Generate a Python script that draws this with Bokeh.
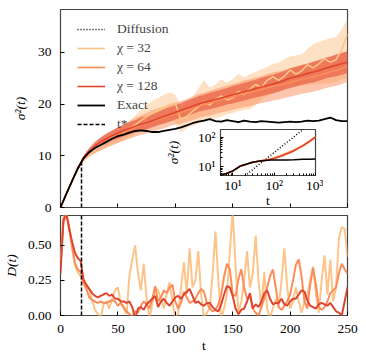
import numpy as np
from bokeh.plotting import figure
from bokeh.models import (Range1d, Span, Legend, LegendItem, SingleIntervalTicker,
                          FixedTicker, PrintfTickFormatter, CustomLabelingPolicy)
from bokeh.layouts import column
from bokeh.embed import file_html
from bokeh.resources import INLINE

# ---------------- data ----------------
t_top = np.arange(0, 255, 5)

exact = [0.0, 2.6, 5.1, 7.5, 9.5, 10.7, 11.5, 12.1, 12.7, 13.3, 13.8, 14.1, 14.5, 14.8, 14.9,
         14.8, 14.6, 14.6, 14.8, 15.0, 15.2, 15.5, 15.9, 16.3, 16.6, 16.8, 17.1, 16.7, 16.6,
         16.9, 16.7, 16.5, 16.8, 16.6, 16.5, 16.7, 16.6, 16.5, 16.4, 16.5, 16.6, 16.5, 16.6,
         16.8, 16.7, 16.8, 17.1, 17.4, 16.9, 16.7, 16.7]

chi128_mean = [0.0, 2.6, 5.1, 7.6, 9.6, 10.9, 11.9, 12.7, 13.3, 13.9, 14.4, 14.9, 15.3, 15.7,
               16.1, 16.4, 16.8, 17.2, 17.6, 18.0, 18.4, 18.8, 19.2, 19.6, 20.0, 20.3, 20.6,
               20.9, 21.2, 21.5, 21.8, 22.1, 22.4, 22.7, 23.0, 23.3, 23.6, 23.9, 24.2, 24.6,
               25.0, 25.3, 25.6, 25.9, 26.2, 26.5, 26.9, 27.2, 27.5, 27.8, 28.1]
chi128_std = [0.0, 0.1, 0.1, 0.2, 0.4, 0.6, 0.8, 0.9, 1.0, 1.0, 1.1, 1.1, 1.2, 1.2, 1.3, 1.3,
              1.3, 1.3, 1.4, 1.4, 1.4, 1.4, 1.5, 1.5, 1.5, 1.5, 1.6, 1.6, 1.6, 1.6, 1.7, 1.7,
              1.7, 1.7, 1.7, 1.8, 1.8, 1.8, 1.8, 1.8, 1.9, 1.9, 1.9, 1.9, 2.0, 2.0, 2.0, 2.0,
              2.1, 2.1, 2.1]

chi64_mean = [0.0, 2.6, 5.0, 7.5, 9.4, 10.6, 11.5, 12.3, 12.9, 13.5, 14.0, 14.5, 15.0, 15.5,
              15.9, 16.3, 16.7, 17.1, 17.4, 17.8, 18.1, 18.4, 18.8, 19.2, 19.6, 19.9, 20.2,
              20.5, 20.8, 21.1, 21.4, 21.7, 22.0, 22.2, 22.5, 22.8, 23.1, 23.4, 23.6, 23.9,
              24.2, 24.5, 24.8, 25.0, 25.3, 25.6, 25.9, 26.2, 26.5, 26.9, 27.3]
chi64_std = [0.0, 0.1, 0.2, 0.3, 0.5, 0.8, 1.0, 1.2, 1.3, 1.4, 1.5, 1.6, 1.7, 1.8, 1.9, 2.0,
             2.1, 2.1, 2.1, 2.1, 2.1, 2.2, 2.2, 2.3, 2.3, 2.3, 2.4, 2.4, 2.4, 2.5, 2.5, 2.5,
             2.6, 2.6, 2.6, 2.6, 2.7, 2.7, 2.7, 2.7, 2.8, 2.8, 2.8, 2.8, 2.9, 2.9, 2.9, 2.9,
             3.0, 3.0, 3.0]

chi32_line = [0.0, 2.6, 5.0, 7.4, 9.3, 10.4, 11.2, 11.9, 12.6, 13.2, 13.8, 14.5, 15.2, 16.0,
              16.8, 17.6, 18.2, 18.7, 19.3, 19.9, 20.2, 16.9, 17.6, 18.6, 19.4, 20.3, 19.8,
              20.9, 21.6, 20.8, 21.2, 22.5, 21.8, 22.9, 23.8, 23.2, 24.6, 25.3, 24.6, 25.4,
              26.6, 25.8, 26.4, 27.6, 27.0, 27.8, 28.8, 28.1, 28.6, 30.5, 33.5]
chi32_hi = [0.0, 2.7, 5.2, 7.7, 9.7, 11.0, 12.1, 13.0, 13.8, 14.5, 15.2, 15.9, 16.8, 17.8,
            18.8, 19.8, 20.6, 21.2, 21.8, 22.3, 21.8, 19.6, 20.2, 21.2, 23.0, 24.6, 23.2,
            23.8, 24.8, 24.2, 24.8, 25.8, 25.2, 25.8, 26.2, 26.8, 27.2, 27.8, 28.0, 28.7,
            29.2, 29.4, 29.6, 30.6, 31.6, 32.0, 32.4, 32.8, 33.0, 34.5, 36.5]
chi32_lo = [0.0, 2.5, 4.9, 7.2, 9.0, 9.9, 10.5, 11.0, 11.5, 12.0, 12.5, 13.0, 13.6, 14.2,
            14.8, 15.3, 15.6, 16.0, 16.4, 16.8, 16.6, 14.5, 15.4, 15.8, 16.2, 16.6, 17.0,
            17.2, 17.6, 18.0, 18.3, 18.6, 18.9, 19.0, 19.8, 20.8, 21.6, 22.0, 22.5, 22.9,
            23.2, 23.4, 23.6, 23.7, 23.8, 23.9, 24.0, 24.1, 24.3, 24.8, 25.2]

t_star = 18.3

t_D = np.arange(0, 252.5, 2.5)
D_chi128 = [0.30, 0.68, 0.73, 0.62, 0.53, 0.45, 0.41, 0.39, 0.26, 0.22, 0.19, 0.16, 0.14, 0.13,
            0.14, 0.15, 0.16, 0.14, 0.15, 0.12, 0.12, 0.10, 0.10, 0.09, 0.10, 0.06, -0.02, 0.05,
            0.06, 0.04, 0.08, 0.10, 0.12, 0.14, 0.06, 0.10, 0.12, 0.09, 0.07, 0.10, 0.13, 0.14,
            0.12, 0.15, 0.17, 0.19, 0.14, 0.09, 0.10, 0.08, 0.07, 0.09, 0.09, 0.06, 0.04, 0.03,
            0.08, 0.15, 0.21, 0.20, 0.14, 0.05, 0.01, 0.04, 0.05, 0.10, 0.16, 0.05, 0.08, 0.06,
            0.10, 0.16, 0.18, 0.12, 0.08, 0.09, 0.09, 0.12, 0.08, 0.07, 0.10, 0.12, 0.12, 0.15,
            0.18, 0.17, 0.11, 0.07, 0.06, 0.05, 0.08, 0.09, 0.08, 0.07, 0.09, 0.06, 0.03, 0.02,
            0.00, 0.10, 0.20]
D_chi64 = [0.35, 0.66, 0.72, 0.64, 0.50, 0.38, 0.33, 0.31, 0.24, 0.19, 0.13, 0.11, 0.10, 0.09,
           0.10, 0.09, 0.09, 0.10, 0.11, 0.10, 0.07, 0.09, 0.06, 0.03, 0.01, -0.01, 0.03, 0.02,
           0.07, 0.10, 0.08, 0.05, 0.12, 0.21, 0.10, 0.13, 0.18, 0.16, 0.20, 0.22, 0.10, 0.05,
           0.09, 0.17, 0.13, 0.09, 0.10, 0.12, 0.16, 0.19, 0.17, 0.09, 0.05, 0.03, 0.04, 0.08,
           0.15, 0.28, 0.37, 0.33, 0.15, 0.14, 0.26, 0.33, 0.20, 0.12, 0.14, 0.05, 0.02, 0.00,
           0.06, 0.12, 0.20, 0.28, 0.33, 0.20, 0.06, 0.04, 0.07, 0.10, 0.15, 0.25, 0.36, 0.40,
           0.28, 0.10, 0.05, 0.22, 0.34, 0.22, 0.06, 0.04, 0.06, 0.10, 0.16, 0.18, 0.20, 0.30,
           0.37, 0.33, 0.30]
D_chi32 = [0.40, 0.70, 0.74, 0.62, 0.48, 0.36, 0.31, 0.28, 0.22, 0.20, 0.19, 0.11, 0.04, 0.01,
           -0.02, 0.08, 0.10, 0.05, 0.12, 0.18, 0.20, 0.09, 0.05, 0.01, 0.28, 0.40, 0.50, 0.30,
           0.18, 0.37, 0.12, -0.02, 0.08, 0.20, 0.18, 0.12, 0.05, 0.15, 0.24, 0.10, -0.02, 0.02,
           0.20, 0.38, 0.15, 0.48, 0.20, 0.25, 0.46, 0.15, -0.02, 0.02, 0.05, 0.30, 0.60, 0.25,
           -0.02, 0.05, 0.15, 0.45, 0.75, 0.35, 0.02, 0.10, 0.25, 0.46, 0.20, 0.30, 0.57, 0.25,
           0.05, 0.31, 0.05, -0.02, 0.05, 0.12, 0.06, 0.25, 0.48, 0.20, 0.05, 0.10, 0.20, 0.10,
           0.02, 0.10, 0.15, 0.25, 0.35, 0.15, 0.02, 0.25, 0.43, 0.15, 0.40, 0.10, 0.20, 0.55,
           0.63, 0.62, 0.42]

inset_t = [5, 7, 10, 15, 20, 30, 45, 60, 80, 100, 140, 200, 300, 500, 700, 1000]
inset_exact = [5.0, 5.9, 7.2, 10.5, 12.0, 14.2, 15.6, 16.4, 17.0, 17.1, 17.1, 17.2, 17.5,
               18.0, 18.2, 18.5]
inset_chi128 = [5.0, 5.9, 7.2, 10.5, 12.0, 14.2, 15.6, 16.6, 17.6, 19.2, 22.5, 27.5, 35.0,
                52.0, 72.0, 105.0]
inset_chi64 = [5.0, 5.9, 7.2, 10.5, 12.0, 14.2, 15.7, 16.8, 18.0, 19.8, 23.2, 28.5, 36.5,
               54.0, 74.0, 106.0]
inset_chi32 = [5.0, 5.9, 7.2, 10.5, 12.0, 14.3, 16.0, 17.3, 18.8, 20.8, 24.5, 30.0, 38.5,
               56.0, 76.0, 108.0]
diff_t = [10, 1000]
diff_sigma2 = [2.3, 414.0]

inset_x_major = [10, 100, 1000]
inset_x_minor = [5, 6, 7, 8, 9, 20, 30, 40, 50, 60, 70, 80, 90,
                 200, 300, 400, 500, 600, 700, 800, 900]
inset_y_major = [10, 100]
inset_y_minor = [5, 6, 7, 8, 9, 20, 30, 40, 50, 60, 70, 80, 90]

labels = ["χ = 32", "χ = 64", "χ = 128"]
colors = ["#fdc48a", "#fc8d59", "#e0452f"]

FONT = "Liberation Serif"
FS = "13.5px"


def style(p, tick_in=4):
    p.outline_line_color = "#444444"
    p.outline_line_width = 1.2
    p.grid.visible = False
    p.background_fill_color = "white"
    for ax in p.axis:
        ax.axis_line_color = None
        ax.major_tick_in = tick_in
        ax.major_tick_out = 0
        ax.major_tick_line_color = "black"
        ax.minor_tick_line_color = None
        ax.major_label_text_font = FONT
        ax.major_label_text_font_size = FS
        ax.major_label_text_color = "black"
        ax.axis_label_text_font = FONT
        ax.axis_label_text_font_size = FS
        ax.axis_label_text_color = "black"
        ax.axis_label_text_font_style = "italic"
        ax.major_label_standoff = 5


# ---------------- top panel ----------------
p_top = figure(frame_width=287, frame_height=198, x_range=Range1d(0, 250),
               y_range=Range1d(0, 38.3), output_backend="svg", toolbar_location=None,
               min_border_left=51, min_border_right=12, min_border_top=9, min_border_bottom=6)
style(p_top)
p_top.xaxis.ticker = SingleIntervalTicker(interval=50)
p_top.xaxis.major_label_text_font_size = "1px"
p_top.xaxis.major_label_standoff = 0
p_top.xaxis.major_label_policy = CustomLabelingPolicy(code="return []")
p_top.yaxis.ticker = SingleIntervalTicker(interval=10)
p_top.yaxis.axis_label = "σ²(t)"
p_top.yaxis.axis_label_standoff = 7

lo64 = np.array(chi64_mean) - np.array(chi64_std)
hi64 = np.array(chi64_mean) + np.array(chi64_std)
lo128 = np.array(chi128_mean) - np.array(chi128_std)
hi128 = np.array(chi128_mean) + np.array(chi128_std)

p_top.varea(x=t_top, y1=chi32_lo, y2=chi32_hi, fill_color=colors[0], fill_alpha=0.5)
p_top.varea(x=t_top, y1=lo64, y2=hi64, fill_color=colors[1], fill_alpha=0.5)
p_top.varea(x=t_top, y1=lo128, y2=hi128, fill_color=colors[2], fill_alpha=0.55)

r32 = p_top.line(t_top, chi32_line, line_color=colors[0], line_width=1.6)
r64 = p_top.line(t_top, chi64_mean, line_color=colors[1], line_width=1.6)
r128 = p_top.line(t_top, chi128_mean, line_color=colors[2], line_width=1.6)
rex = p_top.line(t_top, exact, line_color="black", line_width=1.8)

sigma_star = float(np.interp(t_star, t_top, exact))
rts = p_top.line([t_star, t_star], [0, sigma_star], line_color="black", line_width=1.5,
                 line_dash="4 2")
# legend-only proxy for the diffusion curve (drawn only in the inset)
rdiff = p_top.line(x=[float("nan")], y=[float("nan")], line_color="black", line_width=1.5,
                   line_dash="1 2")

legend = Legend(items=[
    LegendItem(label="Diffusion", renderers=[rdiff]),
    LegendItem(label=labels[0], renderers=[r32]),
    LegendItem(label=labels[1], renderers=[r64]),
    LegendItem(label=labels[2], renderers=[r128]),
    LegendItem(label="Exact", renderers=[rex]),
    LegendItem(label="t*", renderers=[rts]),
], location=(17, 75))
legend.border_line_color = None
legend.background_fill_alpha = 0
legend.label_text_font = FONT
legend.label_text_font_size = FS
legend.glyph_width = 28
legend.glyph_height = 14
legend.label_height = 14
legend.spacing = 3
legend.label_standoff = 12
legend.padding = 2
legend.margin = 0
p_top.add_layout(legend)

# ---------------- bottom panel ----------------
p_bot = figure(frame_width=287, frame_height=100, x_range=Range1d(0, 250),
               y_range=Range1d(0, 0.714), output_backend="svg", toolbar_location=None,
               min_border_left=51, min_border_right=12, min_border_top=0, min_border_bottom=40)
style(p_bot)
p_bot.xaxis.ticker = SingleIntervalTicker(interval=50)
p_bot.yaxis.ticker = SingleIntervalTicker(interval=0.25)
p_bot.yaxis.formatter = PrintfTickFormatter(format="%.2f")
p_bot.yaxis.axis_label = "D(t)"
p_bot.yaxis.axis_label_standoff = 6
p_bot.xaxis.axis_label = "t"
p_bot.xaxis.axis_label_text_font_style = "normal"
p_bot.xaxis.axis_label_standoff = 2

for D, c in zip([D_chi32, D_chi64, D_chi128], colors):
    p_bot.line(t_D, D, line_color=c, line_width=2)
p_bot.add_layout(Span(location=t_star, dimension="height", line_color="black",
                      line_width=1.5, line_dash="4 2"))

# ---------------- inset ----------------
p_in = figure(frame_width=95, frame_height=46, x_axis_type="log", y_axis_type="log",
              x_range=Range1d(5, 1000), y_range=Range1d(5, 190),
              output_backend="svg", toolbar_location=None,
              min_border_left=56, min_border_right=10, min_border_top=2, min_border_bottom=34)
style(p_in, tick_in=3)
p_in.border_fill_color = None
p_in.border_fill_alpha = 0
p_in.xaxis.ticker = FixedTicker(ticks=inset_x_major, minor_ticks=inset_x_minor)
p_in.yaxis.ticker = FixedTicker(ticks=inset_y_major, minor_ticks=inset_y_minor)
for ax in p_in.axis:
    ax.minor_tick_line_color = "black"
    ax.minor_tick_in = 2
    ax.minor_tick_out = 0
p_in.xaxis.major_label_standoff = 2
p_in.yaxis.major_label_standoff = 5
p_in.xaxis.major_label_overrides = {10: "10¹", 100: "10²", 1000: "10³"}
p_in.yaxis.major_label_overrides = {10: "10¹", 100: "10²"}
p_in.xaxis.axis_label = "t"
p_in.xaxis.axis_label_text_font_style = "normal"
p_in.xaxis.axis_label_standoff = -3
p_in.yaxis.axis_label = "σ²(t)"
p_in.yaxis.axis_label_standoff = 14

p_in.line(diff_t, diff_sigma2, line_color="black", line_width=1.5, line_dash="1 2")
p_in.line(inset_t, inset_chi32, line_color=colors[0], line_width=1.6)
p_in.line(inset_t, inset_chi64, line_color=colors[1], line_width=1.6)
p_in.line(inset_t, inset_chi128, line_color=colors[2], line_width=1.6)
p_in.line(inset_t, inset_exact, line_color="black", line_width=1.5)

p_in.styles = {"position": "absolute", "left": "160px", "top": "127px"}

layout = column(p_top, p_bot, p_in, styles={"position": "relative"})

with open("out.html", "w") as f:
    f.write(file_html(layout, INLINE))
